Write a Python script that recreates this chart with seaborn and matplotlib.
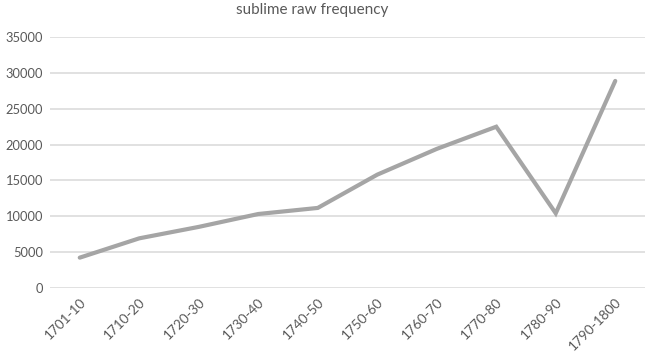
import matplotlib
matplotlib.use("Agg")
import matplotlib.pyplot as plt
import seaborn as sns
import pandas as pd

periods = ["1701-10", "1710-20", "1720-30", "1730-40", "1740-50",
           "1750-60", "1760-70", "1770-80", "1780-90", "1790-1800"]
frequency = [4200, 6900, 8500, 10300, 11150, 15800, 19400, 22500, 10400, 28900]
y_ticks = [0, 5000, 10000, 15000, 20000, 25000, 30000, 35000]
title = "sublime raw frequency"

df = pd.DataFrame({"period": periods, "frequency": frequency})

sns.set_style("white")
plt.rcParams["font.family"] = ["Lato", "DejaVu Sans"]

fig = plt.figure(figsize=(6.45, 3.54), dpi=100)
ax = fig.add_axes([50 / 645, 1 - 287.7 / 354, 1 - 50 / 645, (287.7 - 37.3) / 354])

sns.lineplot(data=df, x="period", y="frequency", sort=False, ax=ax,
             color="#A5A5A5", linewidth=3.0, solid_joinstyle="miter")

ax.set_xlim(-0.5, len(periods) - 0.5)
ax.set_ylim(0, 35000)
ax.set_yticks(y_ticks)
ax.set_yticklabels([str(v) for v in y_ticks])
ax.grid(axis="y", color="#D9D9D9", linewidth=1.1)
ax.set_axisbelow(True)
for s in ax.spines.values():
    s.set_visible(False)
ax.set_xlabel("")
ax.set_ylabel("")
ax.tick_params(axis="y", length=0, pad=5, labelsize=9.3, labelcolor="#595959")
ax.tick_params(axis="x", length=0, pad=6, labelsize=9.8, labelcolor="#595959")
ax.set_xticks(range(len(periods)))
ax.set_xticklabels(periods, rotation=45, ha="right", rotation_mode="anchor")

fig.text(312 / 645, 1 - 10 / 354, title, ha="center", va="center",
         fontsize=11, color="#595959")

fig.savefig("out.png", dpi=100)
